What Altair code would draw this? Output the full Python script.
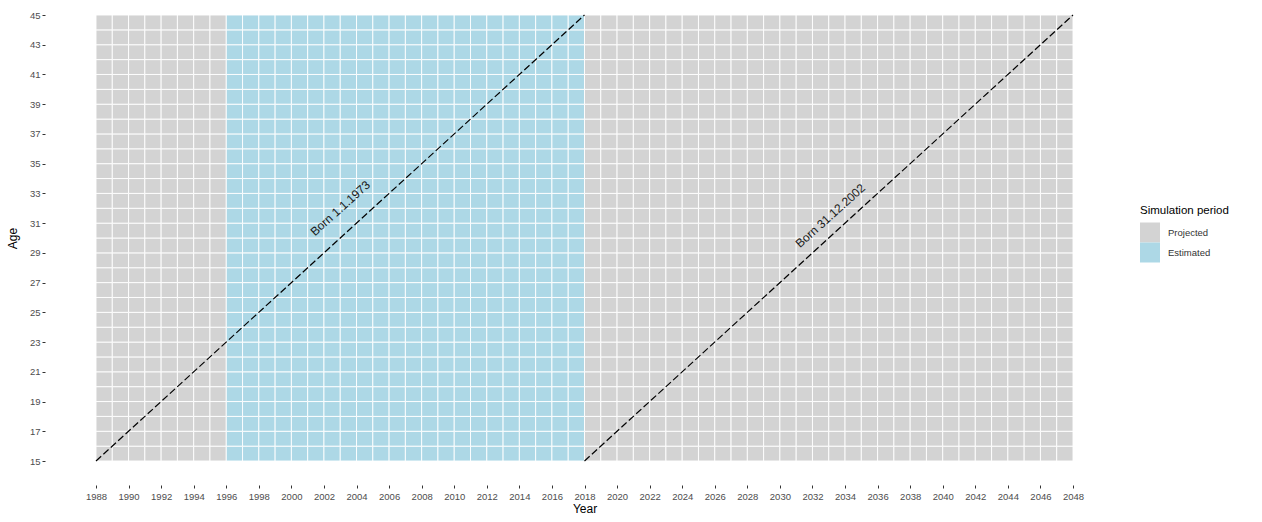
import altair as alt
import pandas as pd

# Simulation grid: one tile per calendar year and age
years = list(range(1988, 2048))
ages = list(range(15, 45))
estimated_start = 1996
estimated_end = 2018
period_labels = ["Projected", "Estimated"]
period_colors = ["#d3d3d3", "#add8e6"]

# Cohort lines (start year, start age, end year, end age) and their labels
cohort_names = ["Born 1.1.1973", "Born 31.12.2002"]
cohort_x0 = [1988, 2018]
cohort_y0 = [15, 15]
cohort_x1 = [2018, 2048]
cohort_y1 = [45, 45]
label_x = [2003.0, 2033.1]
label_y = [32.0, 31.5]

x_ticks = list(range(1988, 2049, 2))
y_ticks = list(range(15, 46, 2))

tiles = pd.DataFrame(
    [
        {
            "year": y,
            "year_end": y + 1,
            "age": a,
            "age_end": a + 1,
            "period": "Estimated" if estimated_start <= y < estimated_end else "Projected",
        }
        for y in years
        for a in ages
    ]
)

lines = pd.DataFrame(
    [
        {"cohort": n, "x": x, "y": y}
        for n, xs, ys in zip(cohort_names, zip(cohort_x0, cohort_x1), zip(cohort_y0, cohort_y1))
        for x, y in zip(xs, ys)
    ]
)
labels = pd.DataFrame({"cohort": cohort_names, "x": label_x, "y": label_y})

x_scale = alt.Scale(domain=[1988, 2048], nice=False, zero=False)
y_scale = alt.Scale(domain=[15, 45], nice=False, zero=False)

x_axis = alt.Axis(
    values=x_ticks, format="d", title="Year", offset=24, grid=False, domain=False,
    tickSize=3, tickColor="#333333", labelPadding=3, labelFontSize=9.5,
    labelColor="#4d4d4d", titleFontSize=12, titleFontWeight="normal",
    titleColor="#000000", titlePadding=3, labelFlush=False, labelOverlap=False,
)
y_axis = alt.Axis(
    values=y_ticks, format="d", title="Age", offset=51, grid=False, domain=False,
    tickSize=3, tickColor="#333333", labelPadding=2, labelFontSize=9.5,
    labelColor="#4d4d4d", titleFontSize=12, titleFontWeight="normal",
    titleColor="#000000", titlePadding=10, labelFlush=False, labelOverlap=False,
)

tile_layer = alt.Chart(tiles).mark_rect(stroke="white", strokeWidth=0.9).encode(
    x=alt.X("year:Q", scale=x_scale, axis=x_axis),
    x2="year_end:Q",
    y=alt.Y("age:Q", scale=y_scale, axis=y_axis),
    y2="age_end:Q",
    color=alt.Color(
        "period:N",
        scale=alt.Scale(domain=period_labels, range=period_colors),
        legend=alt.Legend(
            title="Simulation period", orient="none", legendX=1044, legendY=190,
            symbolType="square", symbolSize=400, symbolStrokeWidth=0,
            titleFontSize=11.5, titleFontWeight="normal", titleColor="#000000",
            labelFontSize=9.5, labelColor="#333333", rowPadding=0,
            titlePadding=6, labelOffset=8,
        ),
    ),
)

line_layer = alt.Chart(lines).mark_line(
    color="#000000", strokeWidth=1.2, strokeDash=[7, 3]
).encode(
    x=alt.X("x:Q", scale=x_scale, axis=x_axis),
    y=alt.Y("y:Q", scale=y_scale, axis=y_axis),
    detail="cohort:N",
)

label_layer = alt.Chart(labels).mark_text(
    angle=318, fontSize=12, color="#1a1a1a", align="center", baseline="middle"
).encode(
    x=alt.X("x:Q", scale=x_scale, axis=x_axis),
    y=alt.Y("y:Q", scale=y_scale, axis=y_axis),
    text="cohort:N",
)

chart = (
    alt.layer(tile_layer, line_layer, label_layer)
    .properties(
        width=977,
        height=446,
        autosize=alt.AutoSizeParams(type="none"),
        padding={"left": 96, "top": 15, "right": 189, "bottom": 61},
    )
    .configure(font="Liberation Sans")
    .configure_view(stroke=None)
)

chart.save("out.html", embed_options={"renderer": "svg", "actions": False})
